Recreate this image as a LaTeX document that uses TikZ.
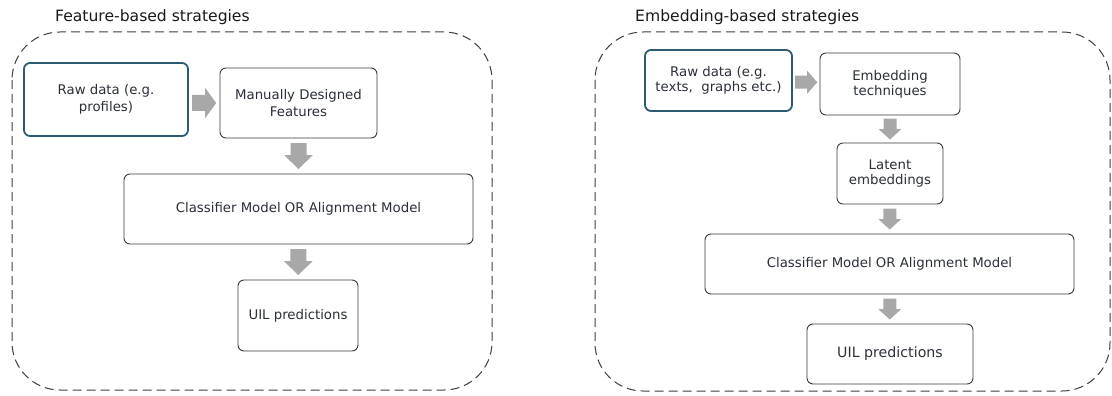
\documentclass[tikz,border=0pt]{standalone}
\usepackage{fontspec}
\setmainfont{DejaVu Sans}
\usetikzlibrary{calc}
\definecolor{teal1}{HTML}{2B5C72}
\definecolor{boxline}{HTML}{3A3A3A}
\definecolor{arrgray}{HTML}{A8A8A8}
\definecolor{dashgray}{HTML}{3F3F3F}
\definecolor{txt}{HTML}{2A2F38}
\tikzset{
  box/.style={draw=boxline, line width=0.9pt, rounded corners=6pt, align=center,
    inner sep=0pt, font=\fontsize{13.3}{16.5}\selectfont, text=txt},
  rawbox/.style={box, draw=teal1, line width=1.8pt},
  panel/.style={draw=dashgray, line width=1pt, dash pattern=on 9pt off 5pt, rounded corners=48pt},
  title/.style={anchor=west, inner sep=0pt, font=\fontsize{15.6}{18}\selectfont, text=black!90},
  darr/.pic={\fill[arrgray] (-8,-13) -- (8,-13) -- (8,-1) -- (14.5,-1) -- (0,13) -- (-14.5,-1) -- (-8,-1) -- cycle;},
  sdarr/.pic={\fill[arrgray] (-6.5,-10.5) -- (6.5,-10.5) -- (6.5,0) -- (11.5,0) -- (0,10.5) -- (-11.5,0) -- (-6.5,0) -- cycle;},
  rarr/.pic={\fill[arrgray] (-12,-8) -- (1,-8) -- (1,-15) -- (12,0) -- (1,15) -- (1,8) -- (-12,8) -- cycle;},
  srarr/.pic={\fill[arrgray] (-11,-6.5) -- (1,-6.5) -- (1,-11.5) -- (11,0) -- (1,11.5) -- (1,6.5) -- (-11,6.5) -- cycle;},
}
\begin{document}
\begin{tikzpicture}[x=1pt,y=-1pt]
\useasboundingbox (0,0) rectangle (1112,396);
% left panel
\node[title] (t1) at (55,17) {Feature-based strategies};
\draw[panel] (12,32) rectangle (492,390);
\node[rawbox, minimum width=164pt, minimum height=73pt] (raw1) at (106,99.5) {Raw data (e.g.\\profiles)};
\node[box, minimum width=157pt, minimum height=70pt] (mdf) at (298.5,103) {Manually Designed\\Features};
\node[box, minimum width=349pt, minimum height=70pt] (cls1) at (298.5,209) {Classifier Model OR Alignment Model};
\node[box, minimum width=120pt, minimum height=71pt] (uil1) at (298,315.5) {UIL predictions};
\coordinate (a1) at ($(raw1.east)!0.5!(mdf.west)$);
\path (a1 |- mdf) pic {rarr};
\path ($(mdf.south)!0.5!(cls1.north)$) pic {darr};
\path ($(cls1.south)!0.5!(uil1.north)$) pic {darr};
% right panel
\node[title] (t2) at (635,17) {Embedding-based strategies};
\draw[panel] (595,32) rectangle (1110,391);
\node[rawbox, minimum width=147pt, minimum height=61pt, font=\fontsize{13.3}{15}\selectfont] (raw2) at (718.5,80.5) {Raw data (e.g.\\texts,\ \ graphs etc.)};
\node[box, minimum width=140pt, minimum height=62pt, font=\fontsize{13.3}{15}\selectfont] (emb) at (890,84) {Embedding\\techniques};
\node[box, minimum width=106pt, minimum height=61pt, font=\fontsize{13.3}{15}\selectfont] (lat) at (890,173.5) {Latent\\embeddings};
\node[box, minimum width=369pt, minimum height=60pt] (cls2) at (889.5,264) {Classifier Model OR Alignment Model};
\node[box, minimum width=166pt, minimum height=60pt, font=\fontsize{14.2}{17}\selectfont] (uil2) at (890,354) {UIL predictions};
\path ($(raw2.east)!0.5!(emb.west)$) pic {srarr};
\path ($(emb.south)!0.5!(lat.north)$) pic {sdarr};
\path ($(lat.south)!0.5!(cls2.north)$) pic {sdarr};
\path ($(cls2.south)!0.5!(uil2.north)$) pic {sdarr};
\end{tikzpicture}
\end{document}
